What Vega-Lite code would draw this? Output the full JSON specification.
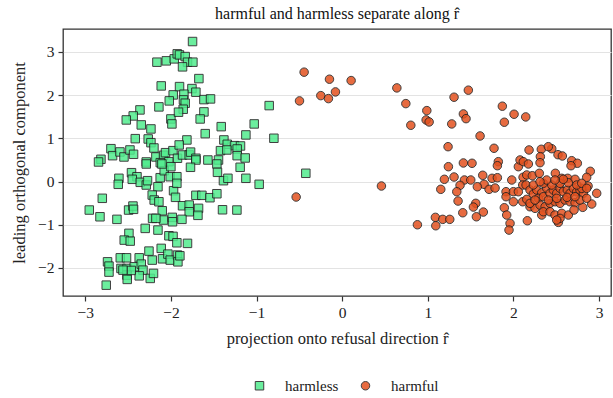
{
  "$schema": "https://vega.github.io/schema/vega-lite/v6.json",
  "autosize": "none",
  "width": 548,
  "height": 267,
  "padding": {"left": 63, "top": 29, "right": 2, "bottom": 102},
  "background": "white",
  "config": {
    "font": "Liberation Serif",
    "view": {"stroke": "#333333", "strokeWidth": 1.3},
    "axis": {
      "labelFont": "Liberation Serif", "labelFontSize": 15.5, "labelColor": "#222",
      "titleFont": "Liberation Serif", "titleFontSize": 16.5, "titleFontWeight": "normal", "titleColor": "#222",
      "gridColor": "#e3e3e3", "gridWidth": 1, "domain": false,
      "tickColor": "#333", "tickSize": 5, "tickWidth": 1.2
    },
    "legend": {"labelFont": "Liberation Serif", "labelFontSize": 15, "labelColor": "#222"},
    "title": {"font": "Liberation Serif", "fontSize": 16, "fontWeight": "normal", "color": "#111"}
  },
  "title": {"text": "harmful and harmless separate along r̂", "offset": 7},
  "datasets": {
    "pts": [
      {"g":"harmless","x":-2.163,"y":2.762},{"g":"harmless","x":-2.054,"y":2.793},{"g":"harmless","x":-1.961,"y":2.839},{"g":"harmless","x":-1.926,"y":2.955},
      {"g":"harmless","x":-2.113,"y":2.213},{"g":"harmless","x":-1.973,"y":2.005},{"g":"harmless","x":-2.019,"y":1.866},{"g":"harmless","x":-2.140,"y":1.727},
      {"g":"harmless","x":-2.361,"y":1.657},{"g":"harmless","x":-2.440,"y":1.518},{"g":"harmless","x":-2.521,"y":1.425},{"g":"harmless","x":-2.346,"y":1.310},
      {"g":"harmless","x":-2.233,"y":1.217},{"g":"harmless","x":-2.000,"y":1.448},{"g":"harmless","x":-1.988,"y":1.333},{"g":"harmless","x":-2.416,"y":0.992},
      {"g":"harmless","x":-2.265,"y":0.985},{"g":"harmless","x":-2.233,"y":0.899},{"g":"harmless","x":-2.198,"y":0.776},{"g":"harmless","x":-2.700,"y":0.760},
      {"g":"harmless","x":-2.681,"y":0.598},{"g":"harmless","x":-2.595,"y":0.684},{"g":"harmless","x":-2.548,"y":0.568},{"g":"harmless","x":-2.478,"y":0.730},
      {"g":"harmless","x":-2.436,"y":0.630},{"g":"harmless","x":-2.817,"y":0.514},{"g":"harmless","x":-2.845,"y":0.452},{"g":"harmless","x":-2.175,"y":0.568},
      {"g":"harmless","x":-2.086,"y":0.607},{"g":"harmless","x":-2.063,"y":0.667},{"g":"harmless","x":-1.976,"y":0.714},{"g":"harmless","x":-2.288,"y":0.452},
      {"g":"harmless","x":-2.124,"y":0.436},{"g":"harmless","x":-2.023,"y":0.459},{"g":"harmless","x":-1.923,"y":0.538},{"g":"harmless","x":-1.747,"y":3.240},
      {"g":"harmless","x":-1.900,"y":2.930},{"g":"harmless","x":-1.833,"y":2.892},{"g":"harmless","x":-1.806,"y":2.762},{"g":"harmless","x":-1.743,"y":2.762},
      {"g":"harmless","x":-1.864,"y":2.654},{"g":"harmless","x":-1.673,"y":2.382},{"g":"harmless","x":-1.899,"y":2.197},{"g":"harmless","x":-1.754,"y":2.151},
      {"g":"harmless","x":-1.708,"y":2.067},{"g":"harmless","x":-1.848,"y":2.021},{"g":"harmless","x":-1.853,"y":1.889},{"g":"harmless","x":-1.833,"y":1.812},
      {"g":"harmless","x":-1.856,"y":1.673},{"g":"harmless","x":-1.911,"y":1.604},{"g":"harmless","x":-1.614,"y":1.896},{"g":"harmless","x":-1.537,"y":1.912},
      {"g":"harmless","x":-1.614,"y":1.611},{"g":"harmless","x":-1.658,"y":1.448},{"g":"harmless","x":-1.412,"y":1.270},{"g":"harmless","x":-1.599,"y":1.108},
      {"g":"harmless","x":-1.027,"y":1.333},{"g":"harmless","x":-1.124,"y":1.078},{"g":"harmless","x":-0.852,"y":1.757},{"g":"harmless","x":-0.797,"y":1.001},
      {"g":"harmless","x":-1.813,"y":0.962},{"g":"harmless","x":-1.903,"y":0.846},{"g":"harmless","x":-1.381,"y":0.962},{"g":"harmless","x":-1.342,"y":0.862},
      {"g":"harmless","x":-1.257,"y":0.830},{"g":"harmless","x":-1.187,"y":0.823},{"g":"harmless","x":-1.421,"y":0.714},{"g":"harmless","x":-1.346,"y":0.730},
      {"g":"harmless","x":-1.226,"y":0.753},{"g":"harmless","x":-1.226,"y":0.598},{"g":"harmless","x":-1.132,"y":0.545},{"g":"harmless","x":-1.864,"y":0.614},
      {"g":"harmless","x":-1.786,"y":0.614},{"g":"harmless","x":-1.770,"y":0.680},{"g":"harmless","x":-1.708,"y":0.538},{"g":"harmless","x":-1.568,"y":0.498},
      {"g":"harmless","x":-1.444,"y":0.498},{"g":"harmless","x":-2.607,"y":0.074},{"g":"harmless","x":-2.615,"y":-0.065},{"g":"harmless","x":-2.460,"y":0.204},
      {"g":"harmless","x":-2.396,"y":0.111},{"g":"harmless","x":-2.451,"y":0.051},{"g":"harmless","x":-2.358,"y":-0.019},{"g":"harmless","x":-2.288,"y":-0.081},
      {"g":"harmless","x":-2.273,"y":0.019},{"g":"harmless","x":-2.151,"y":-0.121},{"g":"harmless","x":-2.125,"y":0.088},{"g":"harmless","x":-2.078,"y":0.250},
      {"g":"harmless","x":-2.008,"y":0.111},{"g":"harmless","x":-2.000,"y":0.343},{"g":"harmless","x":-1.930,"y":0.111},{"g":"harmless","x":-2.288,"y":0.406},
      {"g":"harmless","x":-2.105,"y":0.406},{"g":"harmless","x":-1.969,"y":-0.213},{"g":"harmless","x":-1.946,"y":-0.366},{"g":"harmless","x":-2.218,"y":-0.313},
      {"g":"harmless","x":-2.195,"y":-0.429},{"g":"harmless","x":-2.140,"y":-0.468},{"g":"harmless","x":-2.801,"y":-0.389},{"g":"harmless","x":-2.953,"y":-0.660},
      {"g":"harmless","x":-2.828,"y":-0.816},{"g":"harmless","x":-2.630,"y":-0.876},{"g":"harmless","x":-2.494,"y":-0.660},{"g":"harmless","x":-2.443,"y":-0.568},
      {"g":"harmless","x":-2.436,"y":-0.644},{"g":"harmless","x":-2.101,"y":-0.677},{"g":"harmless","x":-2.086,"y":-0.892},{"g":"harmless","x":-1.984,"y":-0.830},
      {"g":"harmless","x":-1.981,"y":-0.932},{"g":"harmless","x":-2.214,"y":-0.853},{"g":"harmless","x":-2.175,"y":-0.853},{"g":"harmless","x":-2.300,"y":-1.085},
      {"g":"harmless","x":-2.151,"y":-1.124},{"g":"harmless","x":-2.490,"y":-1.200},{"g":"harmless","x":-2.545,"y":-1.356},{"g":"harmless","x":-2.475,"y":-1.379},
      {"g":"harmless","x":-2.023,"y":-1.256},{"g":"harmless","x":-1.975,"y":-1.270},{"g":"harmless","x":-1.930,"y":-1.418},{"g":"harmless","x":-2.113,"y":-1.548},
      {"g":"harmless","x":-2.256,"y":-1.611},{"g":"harmless","x":-2.218,"y":-1.819},{"g":"harmless","x":-2.098,"y":-1.789},{"g":"harmless","x":-2.035,"y":-1.680},
      {"g":"harmless","x":-2.008,"y":-1.819},{"g":"harmless","x":-1.923,"y":-1.703},{"g":"harmless","x":-1.918,"y":-1.859},{"g":"harmless","x":-2.591,"y":-1.766},
      {"g":"harmless","x":-2.518,"y":-1.766},{"g":"harmless","x":-2.740,"y":-1.859},{"g":"harmless","x":-2.723,"y":-1.958},{"g":"harmless","x":-2.723,"y":-2.097},
      {"g":"harmless","x":-2.583,"y":-2.012},{"g":"harmless","x":-2.513,"y":-2.012},{"g":"harmless","x":-2.428,"y":-1.974},{"g":"harmless","x":-2.370,"y":-1.766},
      {"g":"harmless","x":-2.346,"y":-1.912},{"g":"harmless","x":-2.326,"y":-2.051},{"g":"harmless","x":-2.370,"y":-2.183},{"g":"harmless","x":-2.513,"y":-2.167},
      {"g":"harmless","x":-2.510,"y":-2.266},{"g":"harmless","x":-2.241,"y":-2.243},{"g":"harmless","x":-2.203,"y":-2.127},{"g":"harmless","x":-2.463,"y":-2.058},
      {"g":"harmless","x":-2.755,"y":-2.399},{"g":"harmless","x":-2.560,"y":-2.051},{"g":"harmless","x":-1.708,"y":0.498},{"g":"harmless","x":-1.463,"y":0.406},
      {"g":"harmless","x":-1.771,"y":0.329},{"g":"harmless","x":-1.191,"y":0.329},{"g":"harmless","x":-1.456,"y":0.213},{"g":"harmless","x":-1.386,"y":0.019},
      {"g":"harmless","x":-1.334,"y":0.074},{"g":"harmless","x":-1.124,"y":0.074},{"g":"harmless","x":-0.969,"y":-0.065},{"g":"harmless","x":-1.930,"y":-0.042},
      {"g":"harmless","x":-1.708,"y":-0.320},{"g":"harmless","x":-1.638,"y":-0.320},{"g":"harmless","x":-1.544,"y":-0.375},{"g":"harmless","x":-1.463,"y":-0.283},
      {"g":"harmless","x":-1.864,"y":-0.561},{"g":"harmless","x":-1.786,"y":-0.545},{"g":"harmless","x":-1.786,"y":-0.700},{"g":"harmless","x":-1.677,"y":-0.621},
      {"g":"harmless","x":-1.684,"y":-0.783},{"g":"harmless","x":-1.871,"y":-0.876},{"g":"harmless","x":-1.397,"y":-0.654},{"g":"harmless","x":-1.229,"y":-0.660},
      {"g":"harmless","x":-1.806,"y":-1.432},{"g":"harmless","x":-1.895,"y":-1.720},{"g":"harmless","x":-0.424,"y":0.190},
      {"g":"harmful","x":-0.444,"y":2.531},{"g":"harmful","x":-0.148,"y":2.368},{"g":"harmful","x":0.105,"y":2.336},{"g":"harmful","x":-0.078,"y":2.074},
      {"g":"harmful","x":-0.249,"y":1.988},{"g":"harmful","x":-0.160,"y":1.919},{"g":"harmful","x":-0.498,"y":1.866},{"g":"harmful","x":-0.537,"y":-0.359},
      {"g":"harmful","x":0.639,"y":2.167},{"g":"harmful","x":0.744,"y":1.803},{"g":"harmful","x":0.802,"y":1.302},{"g":"harmful","x":0.989,"y":1.641},
      {"g":"harmful","x":0.981,"y":1.425},{"g":"harmful","x":1.016,"y":1.379},{"g":"harmful","x":1.307,"y":1.951},{"g":"harmful","x":1.474,"y":2.114},
      {"g":"harmful","x":1.416,"y":1.564},{"g":"harmful","x":1.447,"y":1.455},{"g":"harmful","x":1.280,"y":1.333},{"g":"harmful","x":1.611,"y":1.054},
      {"g":"harmful","x":1.871,"y":1.743},{"g":"harmful","x":1.894,"y":1.372},{"g":"harmful","x":2.008,"y":1.557},{"g":"harmful","x":2.144,"y":1.495},
      {"g":"harmful","x":1.237,"y":0.806},{"g":"harmful","x":1.774,"y":0.769},{"g":"harmful","x":1.241,"y":0.343},{"g":"harmful","x":1.416,"y":0.429},
      {"g":"harmful","x":1.517,"y":0.422},{"g":"harmful","x":1.194,"y":0.051},{"g":"harmful","x":1.307,"y":0.104},{"g":"harmful","x":1.428,"y":0.035},
      {"g":"harmful","x":1.502,"y":0.035},{"g":"harmful","x":1.642,"y":0.144},{"g":"harmful","x":1.658,"y":-0.065},{"g":"harmful","x":1.579,"y":-0.121},
      {"g":"harmful","x":1.716,"y":-0.181},{"g":"harmful","x":1.786,"y":-0.151},{"g":"harmful","x":1.751,"y":0.074},{"g":"harmful","x":1.813,"y":0.088},
      {"g":"harmful","x":1.824,"y":0.459},{"g":"harmful","x":1.813,"y":0.366},{"g":"harmful","x":1.377,"y":-0.088},{"g":"harmful","x":1.152,"y":-0.181},
      {"g":"harmful","x":1.339,"y":-0.236},{"g":"harmful","x":0.459,"y":-0.104},{"g":"harmful","x":1.354,"y":-0.452},{"g":"harmful","x":1.561,"y":-0.505},
      {"g":"harmful","x":1.533,"y":-0.591},{"g":"harmful","x":1.409,"y":-0.723},{"g":"harmful","x":1.649,"y":-0.707},{"g":"harmful","x":1.568,"y":-0.816},
      {"g":"harmful","x":1.089,"y":-0.830},{"g":"harmful","x":1.175,"y":-0.876},{"g":"harmful","x":1.257,"y":-0.876},{"g":"harmful","x":1.094,"y":-1.024},
      {"g":"harmful","x":0.879,"y":-1.001},{"g":"harmful","x":1.914,"y":-0.236},{"g":"harmful","x":1.914,"y":-0.352},{"g":"harmful","x":2.000,"y":-0.236},
      {"g":"harmful","x":1.981,"y":0.035},{"g":"harmful","x":1.894,"y":-0.607},{"g":"harmful","x":1.922,"y":-0.776},{"g":"harmful","x":2.163,"y":-0.908},
      {"g":"harmful","x":1.961,"y":-0.969},{"g":"harmful","x":1.949,"y":-1.124},{"g":"harmful","x":2.000,"y":-0.468},{"g":"harmful","x":2.058,"y":0.343},
      {"g":"harmful","x":2.078,"y":0.498},{"g":"harmful","x":2.116,"y":0.459},{"g":"harmful","x":2.175,"y":0.406},{"g":"harmful","x":2.183,"y":0.730},
      {"g":"harmful","x":2.326,"y":0.746},{"g":"harmful","x":2.448,"y":0.760},{"g":"harmful","x":2.408,"y":0.806},{"g":"harmful","x":2.315,"y":0.575},
      {"g":"harmful","x":2.311,"y":0.436},{"g":"harmful","x":2.521,"y":0.621},{"g":"harmful","x":2.572,"y":0.591},{"g":"harmful","x":2.681,"y":0.482},
      {"g":"harmful","x":2.747,"y":0.422},{"g":"harmful","x":2.673,"y":0.366},{"g":"harmful","x":2.898,"y":0.236},{"g":"harmful","x":2.856,"y":0.097},
      {"g":"harmful","x":2.973,"y":-0.273},{"g":"harmful","x":2.915,"y":-0.521},{"g":"harmful","x":2.810,"y":-0.598},{"g":"harmful","x":2.872,"y":-0.104},
      {"g":"harmful","x":2.113,"y":0.097},{"g":"harmful","x":2.156,"y":0.151},{"g":"harmful","x":2.221,"y":0.134},{"g":"harmful","x":2.303,"y":0.190},
      {"g":"harmful","x":2.490,"y":0.190},{"g":"harmful","x":2.565,"y":0.074},{"g":"harmful","x":2.635,"y":0.074},{"g":"harmful","x":2.720,"y":0.051},
      {"g":"harmful","x":2.109,"y":-0.081},{"g":"harmful","x":2.148,"y":-0.081},{"g":"harmful","x":2.058,"y":-0.236},{"g":"harmful","x":2.109,"y":-0.468},
      {"g":"harmful","x":2.156,"y":-0.413},{"g":"harmful","x":2.331,"y":-0.776},{"g":"harmful","x":2.525,"y":-0.946},
      {"g":"harmful","x":2.194,"y":-0.197},{"g":"harmful","x":2.233,"y":-0.290},{"g":"harmful","x":2.273,"y":-0.197},{"g":"harmful","x":2.331,"y":-0.260},
      {"g":"harmful","x":2.291,"y":-0.389},{"g":"harmful","x":2.350,"y":-0.352},{"g":"harmful","x":2.389,"y":-0.158},{"g":"harmful","x":2.428,"y":-0.273},
      {"g":"harmful","x":2.466,"y":-0.197},{"g":"harmful","x":2.506,"y":-0.273},{"g":"harmful","x":2.545,"y":-0.158},{"g":"harmful","x":2.583,"y":-0.236},
      {"g":"harmful","x":2.630,"y":-0.197},{"g":"harmful","x":2.661,"y":-0.273},{"g":"harmful","x":2.700,"y":-0.158},{"g":"harmful","x":2.740,"y":-0.236},
      {"g":"harmful","x":2.778,"y":-0.197},{"g":"harmful","x":2.817,"y":-0.273},{"g":"harmful","x":2.798,"y":-0.158},{"g":"harmful","x":2.194,"y":-0.584},
      {"g":"harmful","x":2.253,"y":-0.621},{"g":"harmful","x":2.311,"y":-0.545},{"g":"harmful","x":2.370,"y":-0.584},{"g":"harmful","x":2.428,"y":-0.505},
      {"g":"harmful","x":2.486,"y":-0.468},{"g":"harmful","x":2.545,"y":-0.505},{"g":"harmful","x":2.603,"y":-0.429},{"g":"harmful","x":2.661,"y":-0.468},
      {"g":"harmful","x":2.720,"y":-0.491},{"g":"harmful","x":2.778,"y":-0.429},{"g":"harmful","x":2.194,"y":-0.505},{"g":"harmful","x":2.350,"y":-0.700},
      {"g":"harmful","x":2.428,"y":-0.700},{"g":"harmful","x":2.486,"y":-0.776},{"g":"harmful","x":2.565,"y":-0.737},{"g":"harmful","x":2.642,"y":-0.776},
      {"g":"harmful","x":2.708,"y":-0.660},{"g":"harmful","x":2.545,"y":-0.853},{"g":"harmful","x":2.506,"y":-0.892},{"g":"harmful","x":2.233,"y":-0.081},
      {"g":"harmful","x":2.350,"y":-0.042},{"g":"harmful","x":2.448,"y":-0.081},{"g":"harmful","x":2.545,"y":-0.042},{"g":"harmful","x":2.642,"y":-0.028},
      {"g":"harmful","x":2.740,"y":-0.081},{"g":"harmful","x":2.798,"y":-0.042},{"g":"harmful","x":2.389,"y":0.035},{"g":"harmful","x":2.583,"y":0.051},
      {"g":"harmful","x":2.311,"y":-0.005},{"g":"harmful","x":2.486,"y":0.035},{"g":"harmful","x":2.253,"y":-0.429},{"g":"harmful","x":2.408,"y":-0.429},
      {"g":"harmful","x":2.506,"y":-0.389},{"g":"harmful","x":2.626,"y":-0.366},{"g":"harmful","x":2.720,"y":-0.352},{"g":"harmful","x":2.856,"y":-0.389},
      {"g":"harmful","x":2.856,"y":-0.158}
    ]
  },
  "layer": [
    {
      "mark": {"type": "rule", "color": "#b8b8b8", "strokeDash": [4, 3], "strokeWidth": 1},
      "encoding": {"x": {"datum": 0, "type": "quantitative"}}
    },
    {
      "data": {"name": "pts"},
      "mark": {"type": "point", "filled": true, "size": 72, "opacity": 0.85, "stroke": "#1f1f1f", "strokeWidth": 1},
      "encoding": {
        "x": {
          "field": "x", "type": "quantitative",
          "scale": {"domain": [-3.26, 3.14], "nice": false, "zero": false},
          "axis": {"values": [-3, -2, -1, 0, 1, 2, 3], "format": "d", "title": "projection onto refusal direction r̂", "titlePadding": 10, "labelPadding": 4}
        },
        "y": {
          "field": "y", "type": "quantitative",
          "scale": {"domain": [-2.65, 3.53], "nice": false, "zero": false},
          "axis": {"values": [-2, -1, 0, 1, 2, 3], "format": "d", "title": "leading orthogonal component", "titlePadding": 10, "labelPadding": 4}
        },
        "color": {
          "field": "g", "type": "nominal",
          "scale": {"domain": ["harmless", "harmful"], "range": ["#52ec8e", "#e3521f"]},
          "legend": {"title": null, "orient": "none", "legendX": 189, "legendY": 349, "direction": "horizontal", "padding": 0, "symbolSize": 72, "symbolStrokeColor": "#1f1f1f", "symbolStrokeWidth": 1, "columnPadding": 19, "labelOffset": 18}
        },
        "shape": {
          "field": "g", "type": "nominal",
          "scale": {"domain": ["harmless", "harmful"], "range": ["square", "circle"]},
          "legend": {"title": null, "orient": "none", "legendX": 189, "legendY": 349, "direction": "horizontal", "padding": 0, "symbolSize": 72, "symbolStrokeColor": "#1f1f1f", "symbolStrokeWidth": 1, "columnPadding": 19, "labelOffset": 18}
        }
      }
    }
  ]
}
